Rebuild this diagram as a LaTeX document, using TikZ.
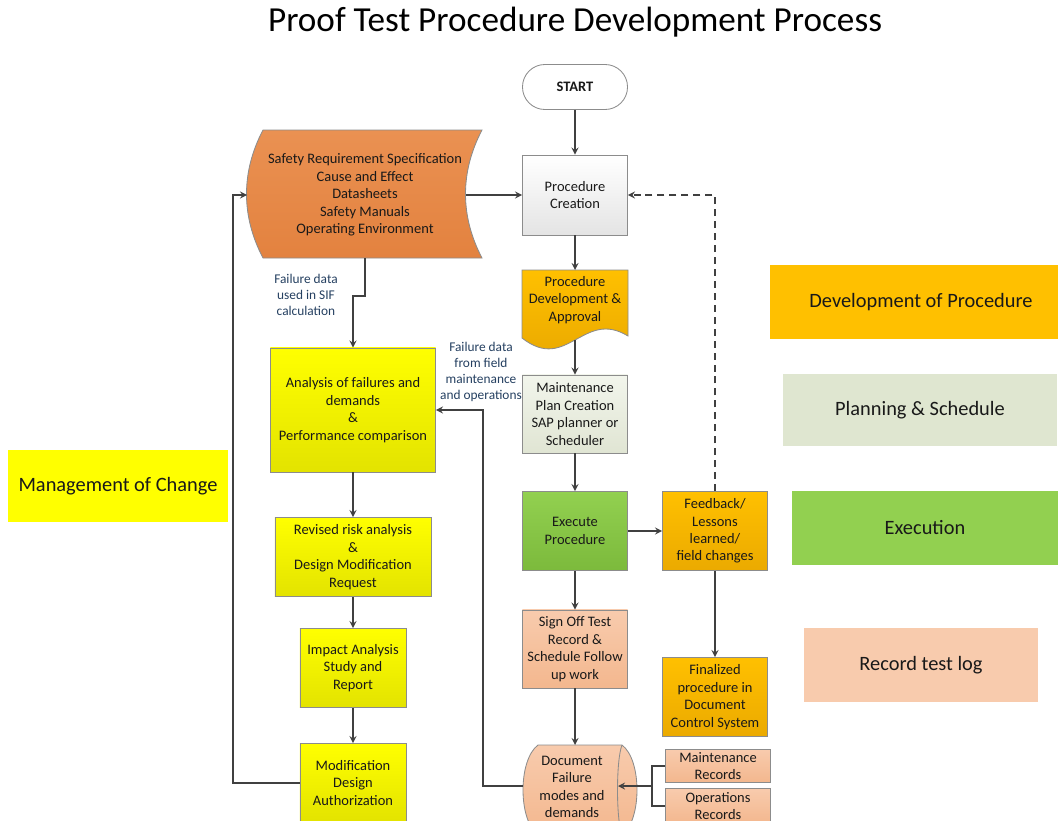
\documentclass[tikz,border=0pt]{standalone}
\usepackage{fontspec}
\setmainfont{Carlito}
\usepackage{tikz}

\definecolor{linegray}{HTML}{404040}
\definecolor{boxgray}{HTML}{8C8C8C}
\definecolor{notecol}{HTML}{243F60}
\definecolor{srsTop}{HTML}{EA9152}
\definecolor{srsBot}{HTML}{E3823F}
\definecolor{goldTop}{HTML}{FFC000}
\definecolor{goldBot}{HTML}{EBAA00}
\definecolor{greenTop}{HTML}{92D050}
\definecolor{greenBot}{HTML}{7CBA3C}
\definecolor{peachTop}{HTML}{F8CBAD}
\definecolor{peachBot}{HTML}{F3B78E}
\definecolor{yellowTop}{HTML}{FFFF00}
\definecolor{yellowBot}{HTML}{E3E300}
\definecolor{planTop}{HTML}{F2F5EC}
\definecolor{planBot}{HTML}{E0E5D3}
\definecolor{pcGray}{HTML}{E4E4E4}
\definecolor{planLeg}{HTML}{DFE6D0}

\begin{document}
\begin{tikzpicture}[>=stealth, x=0.025cm, y=-0.025cm,
    box/.style={draw=boxgray, line width=0.6pt, align=center, inner sep=1pt, text=black!90, font=\fontsize{10.3}{12.4}\selectfont},
    flow/.style={->, draw=linegray, line width=1.2pt},
    note/.style={align=center, text=notecol, font=\fontsize{9.5}{11.3}\selectfont},
    legend/.style={align=center, text=black!90, font=\fontsize{14.5}{17}\selectfont}]

    \useasboundingbox (0,0) rectangle (1058,821);

    \node[font=\fontsize{25}{30}\selectfont] (title) at (575,22) {Proof Test Procedure Development Process};

    % 中间一列
    \node[box, rounded corners=0.56cm, minimum width=2.625cm, minimum height=1.125cm, fill=white, font=\bfseries\fontsize{10.3}{12}\selectfont] (start) at (575,87) {START};
    \node[box, minimum width=2.625cm, minimum height=2cm, top color=white, bottom color=pcGray] (pc) at (575,195) {Procedure\\Creation};

    \draw[draw=boxgray, line width=0.6pt, top color=goldTop, bottom color=goldBot] (522,270) -- (628,270) -- (628,336) .. controls (605,322) and (590,332) .. (575,340) .. controls (560,348) and (545,356) .. (522,338) -- cycle;
    \node[box, draw=none] (pd) at (575,300) {Procedure\\Development \&\\Approval};
    \coordinate (pdT) at (575,270);
    \coordinate (pdB) at (575,340);

    \node[box, minimum width=2.625cm, minimum height=1.95cm, top color=planTop, bottom color=planBot] (plan) at (575,414) {Maintenance\\Plan Creation\\SAP planner or\\Scheduler};
    \node[box, minimum width=2.625cm, minimum height=1.975cm, top color=greenTop, bottom color=greenBot] (exec) at (575,531) {Execute\\Procedure};
    \node[box, minimum width=2.625cm, minimum height=1.95cm, top color=peachTop, bottom color=peachBot] (sign) at (575,649) {Sign Off Test\\Record \&\\Schedule Follow\\up work};

    \draw[draw=boxgray, line width=0.6pt, top color=peachTop, bottom color=peachBot] (538,745) -- (622,745) .. controls (642,760) and (642,820) .. (622,835) -- (538,835) .. controls (518,820) and (518,760) .. (538,745) -- cycle;
    \draw[draw=boxgray, line width=0.6pt] (622,745) .. controls (616,760) and (616,820) .. (622,835);
    \node[box, draw=none] (df) at (572,787) {Document\\Failure\\modes and\\demands};
    \coordinate (dfT) at (575,745);
    \coordinate (dfL) at (523,786);
    \coordinate (dfIn) at (618,786);

    % 右侧
    \node[box, minimum width=2.625cm, minimum height=1.975cm, top color=goldTop, bottom color=goldBot] (fb) at (715,531) {Feedback/\\Lessons\\learned/\\field changes};
    \node[box, minimum width=2.625cm, minimum height=1.975cm, top color=goldTop, bottom color=goldBot] (fin) at (715,697) {Finalized\\procedure in\\Document\\Control System};
    \node[box, minimum width=2.625cm, minimum height=0.825cm, top color=peachTop, bottom color=peachBot] (mr) at (718,766) {Maintenance\\Records};
    \node[box, minimum width=2.625cm, minimum height=0.875cm, top color=peachTop, bottom color=peachBot] (ops) at (718,806) {Operations\\Records};
    \coordinate (brk) at (652,786);

    % 左侧
    \draw[draw=boxgray, line width=0.6pt, top color=srsTop, bottom color=srsBot] (263,130) -- (482,130) .. controls (460,172) and (460,216) .. (482,258) -- (263,258) .. controls (241,216) and (241,172) .. (263,130) -- cycle;
    \node[box, draw=none] (srs) at (365,195) {Safety Requirement Specification\\Cause and Effect\\Datasheets\\Safety Manuals\\Operating Environment};
    \coordinate (srsL) at (247,195);
    \coordinate (srsR) at (466,195);
    \coordinate (srsB) at (365,258);
    \coordinate (sifBend) at (365,296);

    \node[box, minimum width=4.125cm, minimum height=3.1cm, top color=yellowTop, bottom color=yellowBot] (an) at (353,410) {Analysis of failures and\\demands\\\&\\Performance comparison};
    \node[box, minimum width=3.9cm, minimum height=1.975cm, top color=yellowTop, bottom color=yellowBot] (rev) at (353,557) {Revised risk analysis\\\&\\Design Modification\\Request};
    \node[box, minimum width=2.65cm, minimum height=1.975cm, top color=yellowTop, bottom color=yellowBot] (imp) at (353,668) {Impact Analysis\\Study and\\Report};
    \node[box, minimum width=2.65cm, minimum height=1.975cm, top color=yellowTop, bottom color=yellowBot] (mod) at (353,783) {Modification\\Design\\Authorization};
    \coordinate (mocUp) at (233,195);
    \coordinate (fieldUp) at (483,786);

    \node[note] (sifnote) at (306,295) {Failure data\\used in SIF\\calculation};
    \node[note] (fieldnote) at (481,372) {Failure data\\from field\\maintenance\\and operations};

    % 图例
    \node[legend, fill=goldTop, minimum width=7.55cm, minimum height=1.825cm] (legdev) at (921,302) {Development of Procedure};
    \node[legend, fill=planLeg, minimum width=6.85cm, minimum height=1.8cm] (legplan) at (920,410) {Planning \& Schedule};
    \node[legend, fill=greenTop, minimum width=6.625cm, minimum height=1.85cm] (legexec) at (925,528) {Execution};
    \node[legend, fill=peachTop, minimum width=5.825cm, minimum height=1.825cm] (legrec) at (921,665) {Record test log};
    \node[legend, fill=yellowTop, minimum width=5.475cm, minimum height=1.8cm] (legmoc) at (118,486) {Management of Change};

    % 连线
    \draw[flow] (start) -- (pc);
    \draw[flow] (srsR) -- (pc);
    \draw[flow] (pc) -- (pdT);
    \draw[flow] (pdB) -- (plan);
    \draw[flow] (plan) -- (exec);
    \draw[flow] (exec) -- (sign);
    \draw[flow] (sign) -- (dfT);
    \draw[flow] (exec) -- (fb);
    \draw[flow] (fb) -- (fin);
    \draw[flow, dash pattern=on 5pt off 3.5pt] (fb.north) |- (pc.east);
    \draw[draw=linegray, line width=1.2pt] (mr.west) -| (brk) |- (ops.west);
    \draw[flow] (brk) -- (dfIn);
    \draw[flow] (dfL) -- (fieldUp) |- (an.east);
    \draw[flow] (srsB) -- (sifBend) -| (an.north);
    \draw[flow] (an) -- (rev);
    \draw[flow] (rev) -- (imp);
    \draw[flow] (imp) -- (mod);
    \draw[flow] (mod.west) -| (mocUp) -- (srsL);

\end{tikzpicture}
\end{document}
